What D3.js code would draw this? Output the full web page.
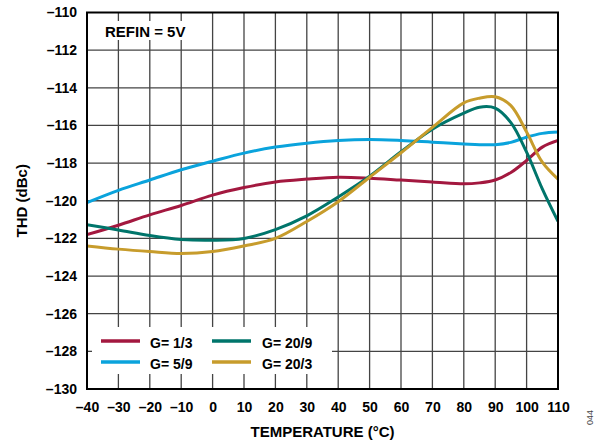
<!DOCTYPE html>
<html>
<head>
<meta charset="utf-8">
<script src="https://cdn.jsdelivr.net/npm/d3@7"></script>
<style>
  html, body { margin: 0; padding: 0; background: #fff; }
  svg { display: block; font-family: "Liberation Sans", Arial, sans-serif; }
</style>
</head>
<body>
<svg id="chart" width="597" height="444"></svg>
<script>
// ---- data ----
const temps = [-40, -30, -20, -10, 0, 10, 20, 30, 40, 50, 60, 70, 80, 85, 90, 95, 100, 105, 110];
const g1_3  = [-121.8, -121.3, -120.75, -120.25, -119.7, -119.3, -119.0, -118.85, -118.75, -118.8, -118.9, -119.0, -119.1, -119.05, -118.9, -118.5, -117.86, -117.15, -116.8];
const g5_9  = [-120.1, -119.45, -118.9, -118.35, -117.9, -117.47, -117.15, -116.94, -116.8, -116.75, -116.8, -116.89, -116.98, -117.02, -117.02, -116.9, -116.62, -116.42, -116.35];
const g20_9 = [-121.27, -121.55, -121.85, -122.06, -122.1, -122.0, -121.53, -120.8, -119.8, -118.7, -117.4, -116.2, -115.35, -115.03, -115.08, -115.85, -117.42, -119.37, -121.1];
const g20_3 = [-122.4, -122.57, -122.7, -122.8, -122.7, -122.4, -122.0, -121.1, -120.05, -118.75, -117.45, -116.1, -114.8, -114.55, -114.48, -114.95, -116.35, -117.95, -118.85];
const xTicks = [-40, -30, -20, -10, 0, 10, 20, 30, 40, 50, 60, 70, 80, 90, 100, 110];
const yTicks = [-110, -112, -114, -116, -118, -120, -122, -124, -126, -128, -130];
const seriesNames = ["G= 1/3", "G= 5/9", "G= 20/9", "G= 20/3"];
const seriesColors = ["#a3183f", "#0aa3dc", "#00756b", "#c79c2c"];
const seriesValues = [g1_3, g5_9, g20_9, g20_3];

// ---- layout ----
const L = 87, R = 558, T = 12.5, B = 389;
const svg = d3.select("#chart");
const x = d3.scaleLinear().domain([-40, 110]).range([L, R]);
const y = d3.scaleLinear().domain([-130, -110]).range([B, T]);
const fmt = v => v < 0 ? "\u2013" + Math.abs(v) : String(v);

// grid
const grid = svg.append("g").attr("stroke", "#444").attr("stroke-width", 1.3);
grid.selectAll("line.v").data(xTicks.slice(1, -1)).join("line")
  .attr("x1", d => x(d)).attr("x2", d => x(d)).attr("y1", T).attr("y2", B);
grid.selectAll("line.h").data(yTicks.slice(1, -1)).join("line")
  .attr("x1", L).attr("x2", R).attr("y1", d => y(d)).attr("y2", d => y(d));

// white boxes interrupting grid (legend and annotation)
svg.append("rect").attr("x", L + 1).attr("y", 327).attr("width", 332 - L - 1).attr("height", 47).attr("fill", "#fff");
svg.append("rect").attr("x", 97).attr("y", 21).attr("width", 98).attr("height", 19).attr("fill", "#fff");
// small inner tick stub on left
svg.append("line").attr("x1", L).attr("x2", L + 5).attr("y1", y(-128)).attr("y2", y(-128)).attr("stroke", "#444").attr("stroke-width", 1.3);

// lines
const line = d3.line().x(d => x(d[0])).y(d => y(d[1])).curve(d3.curveCatmullRom.alpha(0.5));
const clipId = "plotclip";
svg.append("clipPath").attr("id", clipId).append("rect").attr("x", L).attr("y", T).attr("width", R - L).attr("height", B - T);
const lg = svg.append("g").attr("clip-path", `url(#${clipId})`);
seriesValues.forEach((vals, i) => {
  lg.append("path")
    .datum(temps.map((t, j) => [t, vals[j]]))
    .attr("fill", "none").attr("stroke", seriesColors[i]).attr("stroke-width", 3)
    .attr("stroke-linejoin", "round").attr("d", line);
});

// frame
svg.append("rect").attr("x", L).attr("y", T).attr("width", R - L).attr("height", B - T)
  .attr("fill", "none").attr("stroke", "#000").attr("stroke-width", 2);

// axes labels
const xAxis = d3.axisBottom(x).tickValues(xTicks).tickSize(0).tickPadding(13).tickFormat(fmt);
const gx = svg.append("g").attr("transform", `translate(0,${B})`).call(xAxis);
gx.select(".domain").remove();
gx.selectAll("text").attr("font-size", 14).attr("font-weight", "bold").attr("fill", "#000")
  .attr("font-family", "Liberation Sans, Arial, sans-serif");

const yAxis = d3.axisLeft(y).tickValues(yTicks).tickSize(0).tickPadding(10).tickFormat(fmt);
const gy = svg.append("g").attr("transform", `translate(${L},0)`).call(yAxis);
gy.select(".domain").remove();
gy.selectAll("text").attr("font-size", 14).attr("font-weight", "bold").attr("fill", "#000")
  .attr("font-family", "Liberation Sans, Arial, sans-serif");

// titles
svg.append("text").attr("x", (L + R) / 2).attr("y", 437).attr("text-anchor", "middle")
  .attr("font-size", 15).attr("font-weight", "bold").text("TEMPERATURE (°C)");
svg.append("text").attr("transform", `translate(27,${(T + B) / 2}) rotate(-90)`).attr("text-anchor", "middle")
  .attr("font-size", 15).attr("font-weight", "bold").text("THD (dBc)");
svg.append("text").attr("x", 105).attr("y", 37).attr("font-size", 15).attr("font-weight", "bold").text("REFIN = 5V");
svg.append("text").attr("transform", "translate(593,425) rotate(-90)").attr("font-size", 9).attr("fill", "#444").text("044");

// legend
const legPos = [[101, 341, 150], [101, 362, 150], [212, 341, 262], [212, 362, 262]];
seriesNames.forEach((name, i) => {
  const [lx, ly, tx] = legPos[i];
  svg.append("line").attr("x1", lx).attr("x2", lx + 39).attr("y1", ly).attr("y2", ly)
    .attr("stroke", seriesColors[i]).attr("stroke-width", 3.5);
  svg.append("text").attr("x", tx).attr("y", ly + 7).attr("font-size", 14).attr("font-weight", "bold").text(name);
});
</script>
</body>
</html>
